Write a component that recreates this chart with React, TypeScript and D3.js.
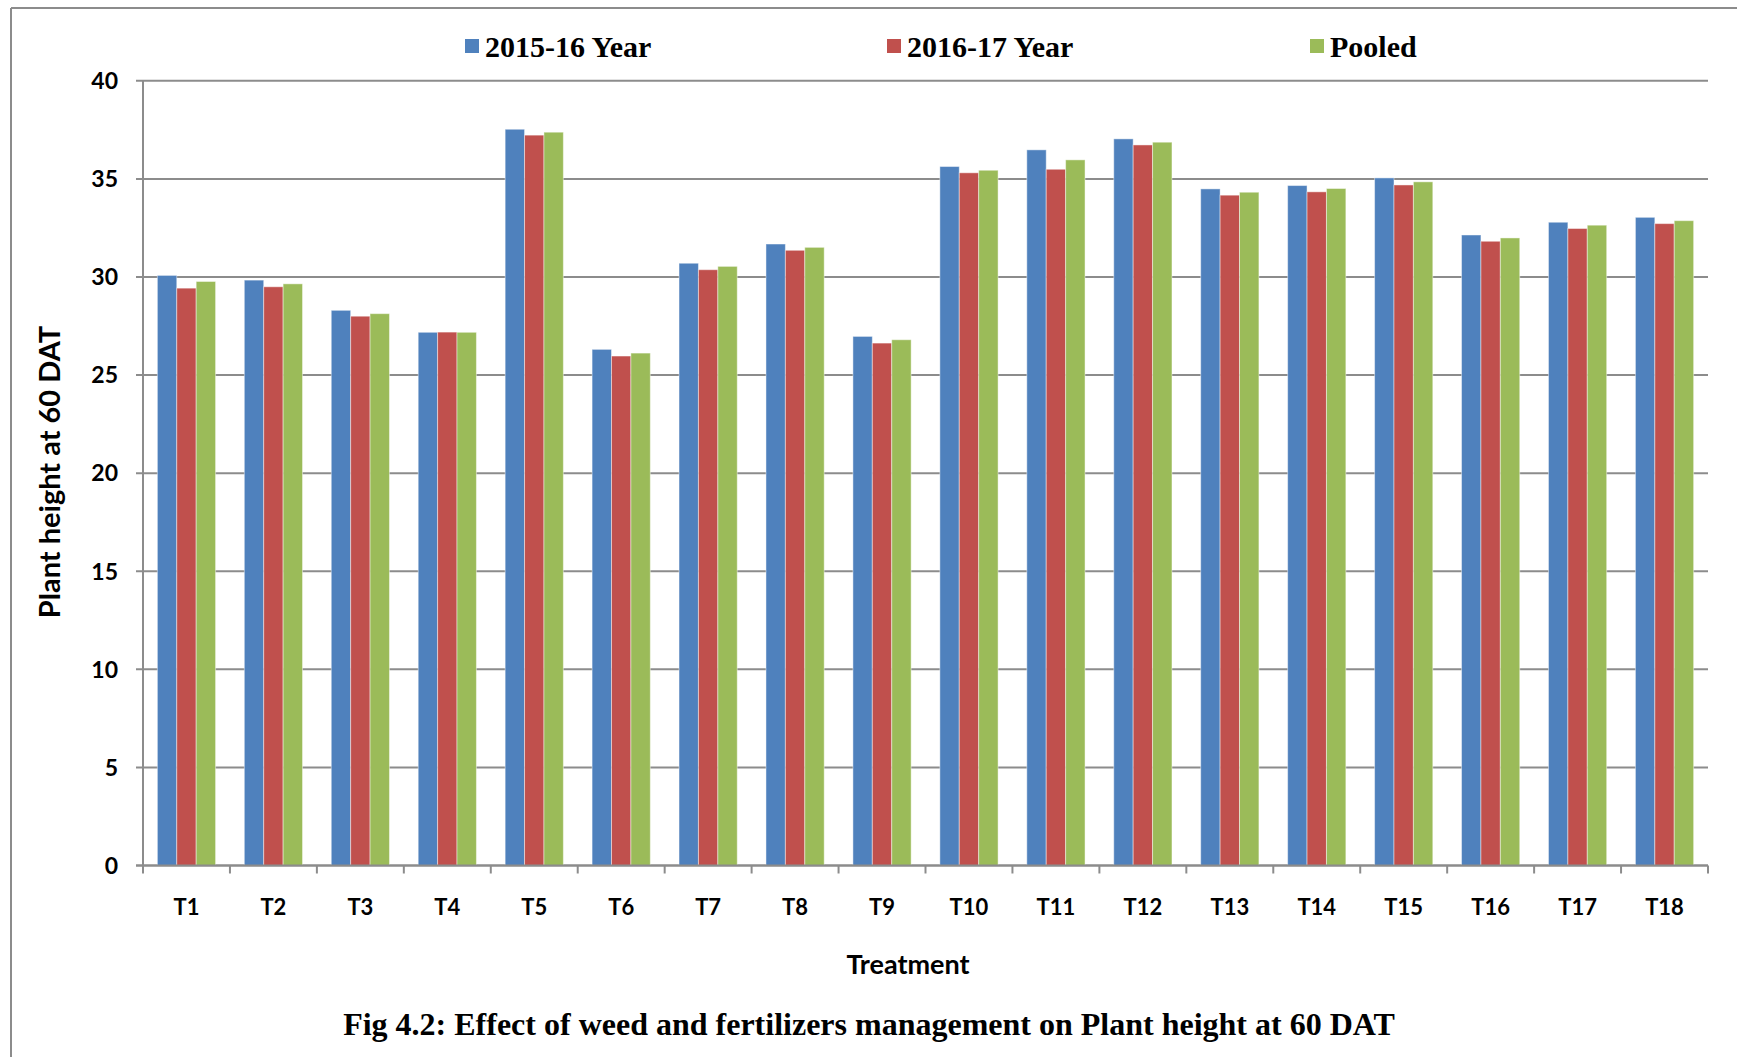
import React from "react";
import * as d3 from "d3";

const categories = ["T1","T2","T3","T4","T5","T6","T7","T8","T9","T10","T11","T12","T13","T14","T15","T16","T17","T18"];
const seriesNames = ["2015-16 Year", "2016-17 Year", "Pooled"];
const year1 = [30.08, 29.84, 28.3, 27.18, 37.53, 26.31, 30.7, 31.68, 26.97, 35.63, 36.48, 37.04, 34.49, 34.66, 35.05, 32.14, 32.79, 33.04];
const year2 = [29.43, 29.5, 28.0, 27.19, 37.23, 25.97, 30.37, 31.36, 26.63, 35.31, 35.49, 36.73, 34.17, 34.34, 34.69, 31.82, 32.47, 32.72];
const pooled = [29.77, 29.65, 28.13, 27.18, 37.38, 26.12, 30.54, 31.51, 26.8, 35.44, 35.97, 36.87, 34.32, 34.51, 34.85, 31.99, 32.64, 32.87];
const yTicks = [0, 5, 10, 15, 20, 25, 30, 35, 40];
const colors = ["#4F81BD", "#C0504D", "#9BBB59"];

const W = 1737, H = 1057;
const left = 143, right = 1708, top = 80.8, bottom = 865.5;
const gridColor = "#8c8c8c";

export default function App() {
  const values = [year1, year2, pooled];
  const x = d3.scaleBand<string>().domain(categories).range([left, right]).paddingInner(0).paddingOuter(0);
  const xs = d3.scaleBand<string>().domain(seriesNames).range([0, x.bandwidth()]).paddingInner(0).paddingOuter(0.74);
  const y = d3.scaleLinear().domain([0, 40]).range([bottom, top]);
  const calibri = "Lato, 'Open Sans', sans-serif";
  const times = "'Liberation Serif', 'Times New Roman', serif";
  const boundaries = categories.map((c) => x(c) as number).concat([right]);
  const legendX = [465, 887, 1310];
  return (
    <svg width={W} height={H} style={{ position: "absolute", left: 0, top: 0, background: "#fff" }}>
      <rect x={0} y={0} width={W} height={H} fill="#fff" />
      <line x1={11} y1={8} x2={W} y2={8} stroke={gridColor} strokeWidth={2} />
      <line x1={11} y1={8} x2={11} y2={H} stroke={gridColor} strokeWidth={2} />
      {yTicks.map((t) => (
        <g key={t}>
          <line x1={left - 7} x2={right} y1={y(t)} y2={y(t)} stroke={gridColor} strokeWidth={2} />
          <text x={118} y={y(t)} dy="0.36em" textAnchor="end" fontFamily={calibri} fontWeight={700} fontSize={23} fill="#000">{t}</text>
        </g>
      ))}
      {seriesNames.map((s, si) => (
        <g key={s}>
          {categories.map((c, ci) => {
            const v = values[si][ci];
            const bx = (x(c) as number) + (xs(s) as number);
            return (
              <rect key={c} x={bx} y={y(v)} width={xs.bandwidth()} height={y(0) - y(v)} fill={colors[si]} stroke="#ffffff" strokeOpacity={0.45} strokeWidth={1} />
            );
          })}
        </g>
      ))}
      <line x1={left} x2={left} y1={top} y2={bottom} stroke={gridColor} strokeWidth={2} />
      <line x1={left - 7} x2={right} y1={bottom} y2={bottom} stroke={gridColor} strokeWidth={2} />
      {boundaries.map((bx, i) => (
        <line key={i} x1={bx} x2={bx} y1={bottom} y2={bottom + 8} stroke={gridColor} strokeWidth={2} />
      ))}
      {categories.map((c) => (
        <text key={c} x={(x(c) as number) + x.bandwidth() / 2} y={915} textAnchor="middle" fontFamily={calibri} fontWeight={700} fontSize={22} fill="#000">{c}</text>
      ))}
      <text x={908} y={974} textAnchor="middle" fontFamily={calibri} fontWeight={700} fontSize={27} fill="#000">Treatment</text>
      <text transform={`translate(60, ${472}) rotate(-90)`} textAnchor="middle" fontFamily={calibri} fontWeight={700} fontSize={29} fill="#000">Plant height at 60 DAT</text>
      {seriesNames.map((s, i) => (
        <g key={s}>
          <rect x={legendX[i]} y={39} width={14} height={14} fill={colors[i]} />
          <text x={legendX[i] + 20} y={57} fontFamily={times} fontWeight={700} fontSize={30} fill="#000">{s}</text>
        </g>
      ))}
      <text x={869} y={1035} textAnchor="middle" fontFamily={times} fontWeight={700} fontSize={32} fill="#000">Fig 4.2: Effect of weed and fertilizers management on Plant height at 60 DAT</text>
    </svg>
  );
}
